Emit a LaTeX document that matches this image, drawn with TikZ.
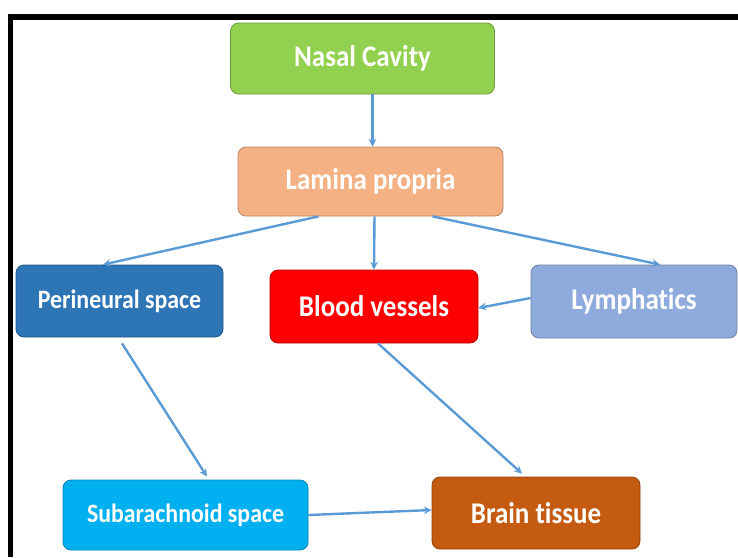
\documentclass[tikz,border=0pt]{standalone}
\usepackage{fontspec}
\setmainfont{Carlito}[FakeStretch=0.9, Ligatures=NoCommon]
\usetikzlibrary{positioning,arrows}
\definecolor{nasalGreen}{HTML}{92D050}
\definecolor{laminaOrange}{HTML}{F4B183}
\definecolor{periBlue}{HTML}{2E75B6}
\definecolor{lymphBlue}{HTML}{8FAADC}
\definecolor{subBlue}{HTML}{00B0F0}
\definecolor{brainBrown}{HTML}{C55A11}
\definecolor{arrowBlue}{HTML}{5B9BD5}
\tikzset{
  box/.style={rectangle, rounded corners=8pt, fill=#1, draw=#1!75!black, line width=0.8pt,
    text=white, font={\bfseries\fontsize{30}{34}\selectfont}},
  smallBox/.style={box=#1, font={\bfseries\fontsize{26.5}{30}\selectfont}},
  flow/.style={-stealth, draw=arrowBlue, line width=2.4pt},
  frame/.style={line width=5.5pt, black}
}
\begin{document}
\begin{tikzpicture}[x=1pt, y=-1pt]
  \useasboundingbox (0,0) rectangle (738,557);
  \fill[white] (0,0) rectangle (738,557);
  % frame, cut at right and bottom
  \draw[frame] (10.5,557) -- (10.5,17) -- (738,17);

  \node [box=nasalGreen, minimum width=264pt, minimum height=71pt] (nasal) at (362.5,58.5) {Nasal Cavity};
  \node [box=laminaOrange, minimum width=265pt, minimum height=69pt] (lamina) at (370.5,181.5) {Lamina propria};
  \node [smallBox=periBlue, minimum width=207pt, minimum height=72pt] (perineural) at (119.5,301) {Perineural space};
  \node [box=red, minimum width=208pt, minimum height=73pt] (blood) at (374,306.5) {Blood vessels};
  \node [box=lymphBlue, minimum width=206pt, minimum height=73pt] (lymph) at (634,301.5) {Lymphatics};
  \node [smallBox=subBlue, minimum width=245pt, minimum height=70pt] (subarach) at (185.5,515) {Subarachnoid space};
  \node [box=brainBrown, minimum width=208pt, minimum height=72pt] (brain) at (536,513) {Brain tissue};

  \draw [flow] ([xshift=10pt]nasal.south) -- ([xshift=10pt]nasal.south |- lamina.north);
  \draw [flow] ([xshift=4pt]lamina.south) -- (blood.north);
  \draw [flow] ([xshift=-52pt]lamina.south) -- ([xshift=-16.5pt]perineural.north);
  \draw [flow] ([xshift=62pt]lamina.south) -- ([xshift=26pt]lymph.north);
  \draw [flow] ([yshift=3.5pt]lymph.west) -- ([yshift=-1.5pt]blood.east);
  \draw [flow] ([xshift=2.5pt,yshift=-6pt]perineural.south) -- ([xshift=21.5pt,yshift=3pt]subarach.north);
  \draw [flow] ([xshift=4pt]blood.south) -- ([xshift=-14pt,yshift=3pt]brain.north);
  \draw [flow] (subarach.east) -- ([yshift=3pt]brain.west);
\end{tikzpicture}
\end{document}
